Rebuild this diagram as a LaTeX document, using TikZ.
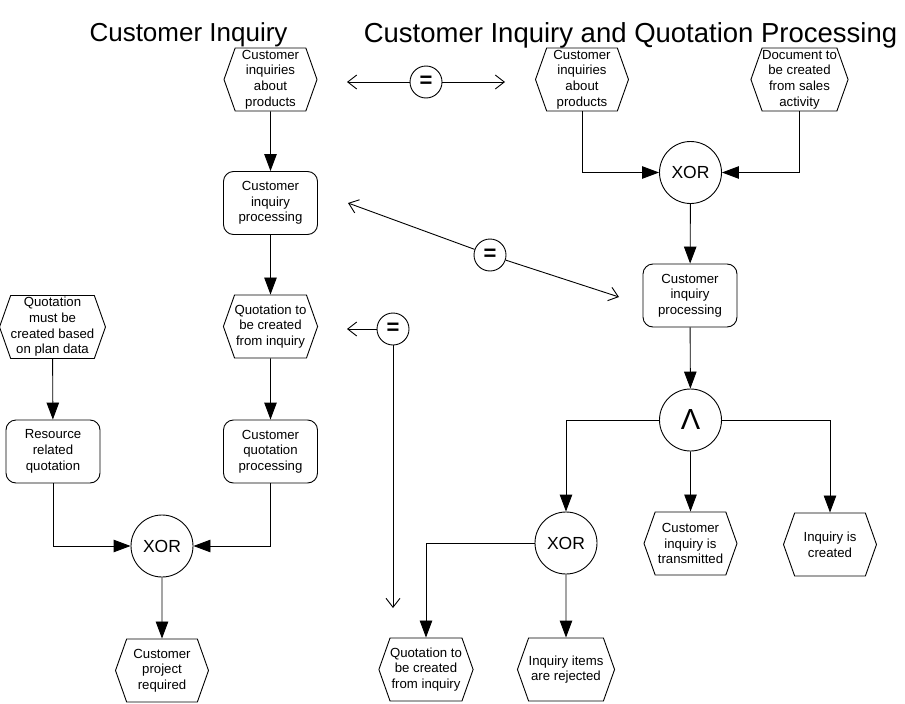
\documentclass[tikz,border=0pt]{standalone}
\usepackage{fontspec}
\setmainfont{Liberation Sans}
\usetikzlibrary{shapes.symbols,arrows.meta}
\begin{document}
\begin{tikzpicture}[x=1pt,y=-1pt,
  every node/.style={font=\fontsize{13.2}{15.7}\selectfont},
  event/.style={draw, line width=0.9pt, signal, signal to=east and west, signal pointer angle=141,
    minimum width=93pt, minimum height=63pt, inner sep=0pt, align=center},
  func/.style={draw, line width=0.9pt, rounded corners=10pt, minimum width=94pt, minimum height=63pt,
    inner sep=0pt, align=center},
  gate/.style={draw, line width=0.9pt, circle, minimum size=62pt, inner sep=0pt,
    font=\fontsize{17.5}{18}\selectfont},
  rel/.style={draw, line width=0.9pt, circle, minimum size=32pt, inner sep=0pt,
    font=\fontsize{22}{22}\selectfont\bfseries},
  flow/.style={draw=black, line width=0.9pt, -{Triangle[length=17pt,width=12.5pt]}},
  link/.style={draw=black, line width=0.9pt, -{Straight Barb[length=9pt,width=14pt]}},
  title/.style={font=\fontsize{26}{30}\selectfont, inner sep=0pt}
]
\useasboundingbox (0,0) rectangle (905,704);

% titles
\node[title] (T1) at (188.5,35) {Customer Inquiry};
\node[title, font=\fontsize{27.5}{30}\selectfont] (T2) at (630.5,35) {Customer Inquiry and Quotation Processing};

% left model
\node[event] (E1) at (270.5,79.5) {Customer\\inquiries\\about\\products};
\node[func]  (F1) at (270.5,203) {Customer\\inquiry\\processing};
\node[event] (E2) at (270.5,326.5) {Quotation to\\be created\\from inquiry};
\node[func]  (F2) at (270.5,451.5) {Customer\\quotation\\processing};
\node[event] (E3) at (52.5,327) {Quotation\\must be\\created based\\on plan data};
\node[func]  (F3) at (53,451.5) {Resource\\related\\quotation};
\node[gate]  (X1) at (162,546) {XOR};
\node[event] (E10) at (162,670.5) {Customer\\project\\required};

\draw[flow] (E1) -- (F1);
\draw[flow] (F1) -- (E2);
\draw[flow] (E2) -- (F2);
\draw[flow] (E3) -- (F3);
\draw[flow] (F3) |- (X1);
\draw[flow] (F2) |- (X1);
\draw[flow] (X1) -- (E10);

% right model
\node[event] (E4) at (582,79.5) {Customer\\inquiries\\about\\products};
\node[event] (E5) at (799.5,79.5) {Document to\\be created\\from sales\\activity};
\node[gate]  (X2) at (690.5,172.5) {XOR};
\node[func]  (F4) at (690,295.5) {Customer\\inquiry\\processing};
\node[gate, font=\fontsize{29}{30}\selectfont] (A) at (690.5,420) {Λ};
\node[gate]  (X3) at (566,543) {XOR};
\node[event] (E6) at (690.5,543.5) {Customer\\inquiry is\\transmitted};
\node[event] (E7) at (830,544.5) {Inquiry is\\created};
\node[event] (E8) at (426,669.5) {Quotation to\\be created\\from inquiry};
\node[event] (E9) at (566,669.5) {Inquiry items\\are rejected};

\draw[flow] (E4) |- (X2);
\draw[flow] (E5) |- (X2);
\draw[flow] (X2) -- (F4);
\draw[flow] (F4) -- (A);
\draw[flow] (A) -| (X3);
\draw[flow] (A) -- (E6);
\draw[flow] (A) -| (E7);
\draw[flow] (X3) -| (E8);
\draw[flow] (X3) -- (E9);

% relations between models
\node[rel] (Q1) at (426,82) {=};
\node[rel] (Q2) at (490,255) {=};
\node[rel] (Q3) at (393,329) {=};
\coordinate (r1a) at (347,82);
\coordinate (r1b) at (505,82);
\coordinate (r2a) at (348,203);
\coordinate (r2b) at (619,297);
\coordinate (r3a) at (347,329);
\coordinate (r3b) at (393,608);
\draw[link] (Q1) -- (r1a);
\draw[link] (Q1) -- (r1b);
\draw[link] (Q2) -- (r2a);
\draw[link] (Q2) -- (r2b);
\draw[link] (Q3) -- (r3a);
\draw[link] (Q3) -- (r3b);
\end{tikzpicture}
\end{document}
